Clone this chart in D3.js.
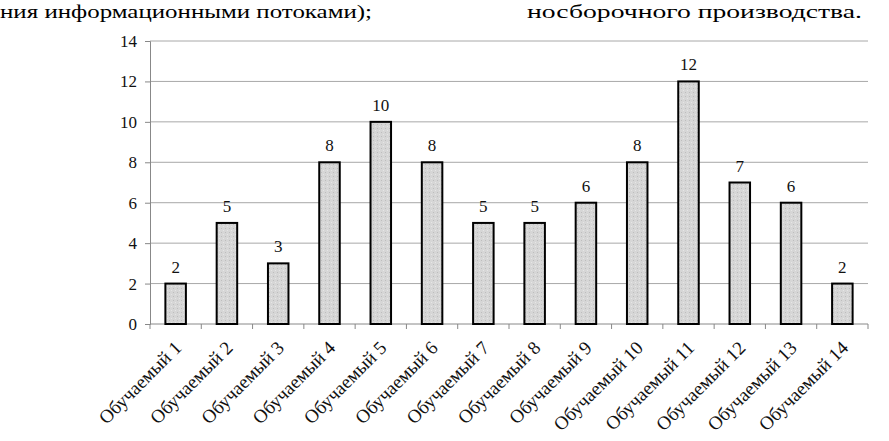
<!DOCTYPE html>
<html><head><meta charset="utf-8">
<script src="https://cdn.jsdelivr.net/npm/d3@7"></script>
<style>body{margin:0;background:#fff}svg{display:block}</style>
</head><body>
<script>
const categories = ["Обучаемый 1","Обучаемый 2","Обучаемый 3","Обучаемый 4","Обучаемый 5","Обучаемый 6","Обучаемый 7","Обучаемый 8","Обучаемый 9","Обучаемый 10","Обучаемый 11","Обучаемый 12","Обучаемый 13","Обучаемый 14"];
const values = [2,5,3,8,10,8,5,5,6,8,12,7,6,2];
const yTicks = [0,2,4,6,8,10,12,14];
const headerLeft = "ния информационными потоками);";
const headerRight = "носборочного производства.";

const W = 889, H = 441;
const m = {left:150, right:21, top:41, bottom:117};
const svg = d3.select("body").append("svg").attr("width", W).attr("height", H);
const font = "'Liberation Serif', 'Times New Roman', serif";

svg.append("text").attr("x", 0).attr("y", 18).style("font-family", font).style("font-size", "19.5px")
  .attr("textLength", 372).attr("lengthAdjust","spacingAndGlyphs").text(headerLeft);
svg.append("text").attr("x", 527).attr("y", 18).style("font-family", font).style("font-size", "19.5px")
  .attr("textLength", 335).attr("lengthAdjust","spacingAndGlyphs").text(headerRight);

const x = d3.scaleBand().domain(categories).range([m.left, W - m.right]).paddingInner(0.6).paddingOuter(0.3);
const xb = d3.scaleBand().domain(categories).range([m.left, W - m.right]);
const y = d3.scaleLinear().domain([0, 14]).range([H - m.bottom, m.top]);

// gridlines
svg.append("g").selectAll("line").data(yTicks.filter(d => d > 0)).join("line")
  .attr("x1", m.left).attr("x2", W - m.right)
  .attr("y1", d => y(d)).attr("y2", d => y(d))
  .attr("stroke", "#a8a8a8").attr("stroke-width", 1);

// y axis
const ya = svg.append("g").attr("transform", `translate(${m.left},0)`)
  .call(d3.axisLeft(y).tickValues(yTicks).tickSize(5).tickPadding(8));
ya.attr("font-family", null);
ya.select(".domain").attr("stroke", "#888");
ya.selectAll(".tick line").attr("stroke", "#888");
ya.selectAll("text").style("font-family", font).style("font-size", "17px").attr("fill", "#111");

// x axis baseline and ticks at boundaries
const base = H - m.bottom;
svg.append("line").attr("x1", m.left).attr("x2", W - m.right).attr("y1", base).attr("y2", base).attr("stroke", "#888");
const bounds = categories.map(c => xb(c)).concat([W - m.right]);
svg.append("g").selectAll("line").data(bounds).join("line")
  .attr("x1", d => d).attr("x2", d => d).attr("y1", base).attr("y2", base + 5).attr("stroke", "#888");

// pattern
const defs = svg.append("defs");
const pat = defs.append("pattern").attr("id", "tex").attr("width", 4).attr("height", 4).attr("patternUnits", "userSpaceOnUse");
pat.append("rect").attr("width", 4).attr("height", 4).attr("fill", "#d6d6d6");
pat.append("rect").attr("x", 1).attr("y", 0).attr("width", 1).attr("height", 1).attr("fill", "#bdbdbd");
pat.append("rect").attr("x", 3).attr("y", 2).attr("width", 1).attr("height", 1).attr("fill", "#e6e6e6");

// bars
svg.append("g").selectAll("rect").data(values).join("rect")
  .attr("x", (d, i) => x(categories[i]))
  .attr("width", x.bandwidth())
  .attr("y", d => y(d))
  .attr("height", d => y(0) - y(d))
  .attr("fill", "url(#tex)").attr("stroke", "#000").attr("stroke-width", 2);

// value labels
svg.append("g").selectAll("text").data(values).join("text")
  .attr("x", (d, i) => x(categories[i]) + x.bandwidth() / 2)
  .attr("y", d => y(d) - 11)
  .attr("text-anchor", "middle").style("font-family", font).style("font-size", "17px").attr("fill", "#111")
  .text(d => d);

// category labels
svg.append("g").selectAll("text").data(categories).join("text")
  .attr("transform", c => `translate(${xb(c) + xb.bandwidth()/2 + 7},${base + 25}) rotate(-45)`)
  .attr("text-anchor", "end").style("font-family", font).style("font-size", "19px").attr("fill", "#111")
  .text(c => c);
</script>
</body></html>
